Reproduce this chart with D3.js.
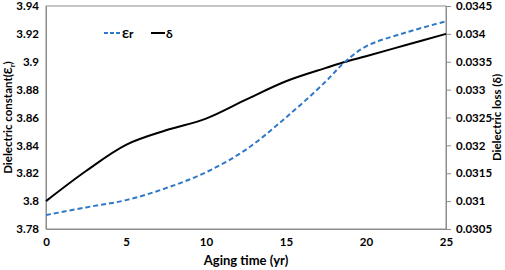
<!DOCTYPE html>
<html>
<head>
<meta charset="utf-8">
<script src="https://cdn.jsdelivr.net/npm/d3@7"></script>
<style>
  body { margin: 0; background: #fff; }
  svg text { font-family: Lato, "Open Sans", sans-serif; font-weight: bold; fill: #000; }
</style>
</head>
<body>
<svg id="chart" width="505" height="270"></svg>
<script>
// aging time (yr)
const years = [0, 2.5, 5, 7.5, 10, 12.5, 15, 17.5, 18.6, 20, 22.5, 25];
// dielectric constant Er (left axis)
const epsR = [3.790, 3.7955, 3.8007, 3.8093, 3.8207, 3.8370, 3.8600, 3.8860, 3.899, 3.911, 3.921, 3.929];
// dielectric loss delta (right axis)
const delta = [0.0310, 0.03154, 0.03201, 0.03227, 0.03248, 0.03282, 0.03315, 0.03339, 0.03349, 0.03360, 0.03380, 0.0340];

const xTicks = [0, 5, 10, 15, 20, 25];
const leftTicks = [3.78, 3.8, 3.82, 3.84, 3.86, 3.88, 3.9, 3.92, 3.94];
const rightTicks = [0.0305, 0.031, 0.0315, 0.032, 0.0325, 0.033, 0.0335, 0.034, 0.0345];

const svg = d3.select("#chart");
const plot = { left: 46, right: 446, top: 6, bottom: 229 };

const x = d3.scaleLinear().domain([0, 25]).range([plot.left, plot.right]);
const yL = d3.scaleLinear().domain([3.78, 3.94]).range([plot.bottom, plot.top]);
const yR = d3.scaleLinear().domain([0.0305, 0.0345]).range([plot.bottom, plot.top]);

// frame
svg.append("rect")
    .attr("x", plot.left).attr("y", plot.top)
    .attr("width", plot.right - plot.left).attr("height", plot.bottom - plot.top)
    .attr("fill", "none").attr("stroke", "#8c8c8c").attr("stroke-width", 1);

// bottom axis
const xAxis = svg.append("g")
    .attr("transform", "translate(0," + plot.bottom + ")")
    .call(d3.axisBottom(x).tickValues(xTicks).tickSize(0).tickPadding(9));
xAxis.select(".domain").attr("stroke", "#8c8c8c");
xAxis.selectAll("text").attr("font-size", 11.5);

// left axis
const lAxis = svg.append("g")
    .attr("transform", "translate(" + plot.left + ",0)")
    .call(d3.axisLeft(yL).tickValues(leftTicks).tickSize(0).tickPadding(7).tickFormat(d3.format("")));
lAxis.select(".domain").attr("stroke", "#8c8c8c");
lAxis.selectAll("text").attr("font-size", 11.5);

// right axis
const rAxis = svg.append("g")
    .attr("transform", "translate(" + plot.right + ",0)")
    .call(d3.axisRight(yR).tickValues(rightTicks).tickSize(5).tickPadding(5).tickFormat(d3.format("")));
rAxis.select(".domain").attr("stroke", "#8c8c8c");
rAxis.selectAll("line").attr("stroke", "#8c8c8c");
rAxis.selectAll("text").attr("font-size", 11.5);

// lines (smooth like the spreadsheet original)
const curve = d3.curveCatmullRom.alpha(0.5);
const lineL = d3.line().x((d, i) => x(years[i])).y(d => yL(d)).curve(curve);
const lineR = d3.line().x((d, i) => x(years[i])).y(d => yR(d)).curve(curve);

svg.append("path")
    .attr("d", lineR(delta))
    .attr("fill", "none").attr("stroke", "#000").attr("stroke-width", 2);

svg.append("path")
    .attr("d", lineL(epsR))
    .attr("fill", "none").attr("stroke", "#2f78c8").attr("stroke-width", 2)
    .attr("stroke-dasharray", "5,3");

// legend
const lg = svg.append("g");
lg.append("line").attr("x1", 104).attr("x2", 120).attr("y1", 33).attr("y2", 33)
    .attr("stroke", "#2f78c8").attr("stroke-width", 2).attr("stroke-dasharray", "4,2");
lg.append("text").attr("x", 122).attr("y", 37.5).attr("font-size", 12).text("Ɛr");
lg.append("line").attr("x1", 151).attr("x2", 165).attr("y1", 33).attr("y2", 33)
    .attr("stroke", "#000").attr("stroke-width", 2);
lg.append("text").attr("x", 166).attr("y", 37.5).attr("font-size", 12).text("δ");

// axis titles
svg.append("text")
    .attr("x", (plot.left + plot.right) / 2).attr("y", 265)
    .attr("text-anchor", "middle").attr("font-size", 13)
    .text("Aging time (yr)");

const yt = svg.append("text")
    .attr("transform", "translate(12," + ((plot.top + plot.bottom) / 2) + ") rotate(-90)")
    .attr("text-anchor", "middle").attr("font-size", 11.5);
yt.append("tspan").text("Dielectric constant(Ɛ");
yt.append("tspan").attr("font-size", 8).attr("dy", 3).text("r");
yt.append("tspan").attr("dy", -3).text(")");

svg.append("text")
    .attr("transform", "translate(501," + ((plot.top + plot.bottom) / 2) + ") rotate(-90)")
    .attr("text-anchor", "middle").attr("font-size", 11.5)
    .text("Dielectric loss (δ)");
</script>
</body>
</html>
